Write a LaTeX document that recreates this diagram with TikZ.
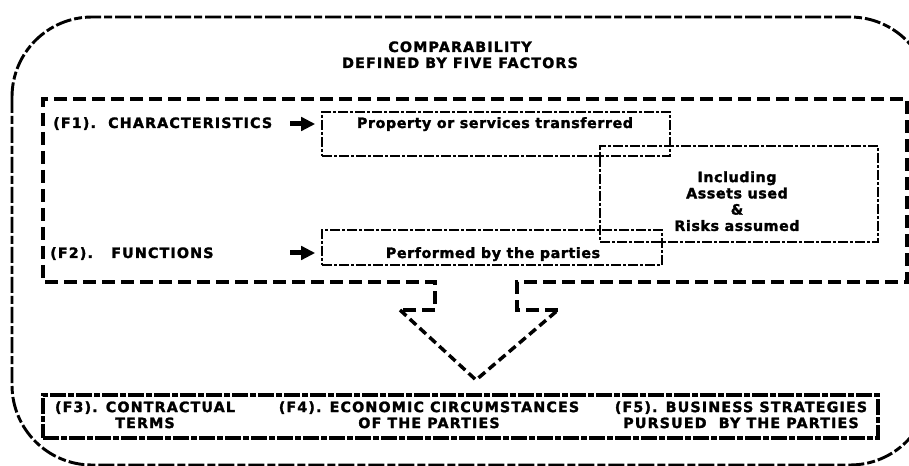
\documentclass[tikz,border=0pt]{standalone}
\usepackage{fontspec}
\setmainfont{DejaVu Sans}
\newfontfamily\capsfont{DejaVu Sans Bold}[LetterSpace=8,FakeBold=1.8]
\newfontfamily\mixfont{DejaVu Sans Bold}[LetterSpace=4,FakeBold=1.8]
\usetikzlibrary{arrows.meta,fit}

\begin{document}
\begin{tikzpicture}[x=0.75pt,y=-0.75pt,
  outerline/.style={line width=2.2pt, dash pattern=on 12pt off 2.25pt on 6pt off 2.25pt},
  bigframe/.style={line width=3pt, dash pattern=on 9.75pt off 4.5pt, line join=miter},
  arrowedge/.style={line width=2.6pt, dash pattern=on 6.5pt off 3.5pt},
  ibox/.style={draw, inner sep=0pt, line width=1.2pt,
    dash pattern=on 7.5pt off 1.5pt on 2.25pt off 1.5pt},
  factorbox/.style={draw, inner sep=0pt, line width=2.6pt,
    dash pattern=on 12pt off 1.5pt on 4.5pt off 1.5pt},
  caps/.style={font=\capsfont\fontsize{10.7}{12}\selectfont, inner sep=0pt, align=center},
  mixed/.style={font=\mixfont\fontsize{10.7}{12.2}\selectfont, inner sep=0pt, align=center},
  fat/.style={line width=3.75pt, -{Triangle[length=10.5pt, width=10pt]}}
]
\useasboundingbox (0,0) rectangle (909,466);
\clip (0,0) rectangle (909,466);

% outer rounded frame
\draw[outerline, rounded corners=60pt] (12,17) rectangle (930,465);

% title
\node[caps, anchor=base] (title1) at (460,52) {COMPARABILITY};
\node[caps, anchor=base] (title2) at (460,68) {DEFINED BY FIVE FACTORS};

% frame around F1/F2, opening into the downward arrow
\draw[bigframe] (558,310) -- (517,310) -- (517,282) -- (907,282) -- (907,99)
  -- (43,99) -- (43,282) -- (435,282) -- (435,310) -- (400,310);
\draw[arrowedge] (400,310) -- (476,380) -- (558,310);

% inner boxes
\node[ibox, fit={(322,112) (670,156)}] (prop) {};
\node[ibox, fit={(600,146) (878,242)}] (incl) {};
\node[ibox, fit={(322,230) (662,265)}] (perf) {};

% labels of the first two factors
\node[caps, anchor=base west] (f1) at (53,128) {(F1).\ \ CHARACTERISTICS};
\node[caps, anchor=base west] (f2) at (50,258) {(F2).\ \ \ FUNCTIONS};

\node[mixed, anchor=base] (proptxt) at (495,128) {Property or services transferred};
\node[mixed, anchor=north] (incltxt) at (737,171) {Including\\Assets used\\\&\\Risks assumed};
\node[mixed, anchor=base] (perftxt) at (493,258) {Performed by the parties};

% block arrows
\coordinate (a1) at (290,124);
\coordinate (a2) at (290,253);
\draw[fat, shorten >=4.5pt] (a1) -- (prop.west |- a1);
\draw[fat, shorten >=4.5pt] (a2) -- (perf.west |- a2);

% remaining factors
\node[factorbox, fit={(43,395) (878,438)}] (factors) {};
\node[caps, anchor=north] (f3) at (145,401) {(F3). CONTRACTUAL\\TERMS};
\node[caps, anchor=north] (f4) at (429,401) {(F4). ECONOMIC CIRCUMSTANCES\\OF THE PARTIES};
\node[caps, anchor=north] (f5) at (741,401) {(F5). BUSINESS STRATEGIES\\PURSUED\ \ BY THE PARTIES};
\end{tikzpicture}
\end{document}
